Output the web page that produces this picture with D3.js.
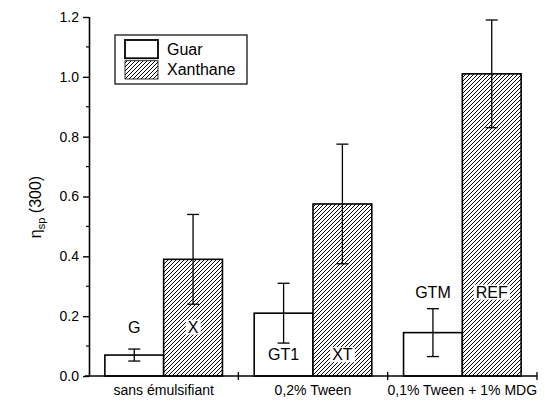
<!DOCTYPE html>
<html><head><meta charset="utf-8">
<script src="https://cdn.jsdelivr.net/npm/d3@7"></script>
<style>
body{margin:0;background:#fff;}
svg{font-family:"Liberation Sans",Arial,Helvetica,sans-serif;}
</style></head>
<body><svg id="c" width="545" height="401"></svg>
<script>
const groups = ["sans émulsifiant", "0,2% Tween", "0,1% Tween + 1% MDG"];
const series = ["Guar", "Xanthane"];
const guarValues = [0.07, 0.21, 0.145];
const guarErrors = [0.02, 0.10, 0.08];
const xanValues = [0.39, 0.575, 1.01];
const xanErrors = [0.15, 0.20, 0.18];
const guarLabels = ["G", "GT1", "GTM"];
const xanLabels = ["X", "XT", "REF"];
const yTicks = [0, 0.2, 0.4, 0.6, 0.8, 1.0, 1.2];

(function(){
const svg = d3.select("#c");
const defs = svg.append("defs");
const pat = defs.append("pattern").attr("id","hatch").attr("patternUnits","userSpaceOnUse")
  .attr("width",4).attr("height",4);
pat.append("rect").attr("width",4).attr("height",4).attr("fill","#fff");
pat.append("path").attr("d","M-1,1 l2,-2 M0,4 l4,-4 M3,5 l2,-2").attr("stroke","#000").attr("stroke-width",1.0);

const mLeft = 89, mRight = 537, mTop = 17, mBottom = 376;
const y = d3.scaleLinear().domain([0,1.2]).range([mBottom, mTop]);
const x0 = d3.scaleBand().domain(groups).range([mLeft, mRight]);
const x1 = d3.scaleBand().domain(series).range([0, x0.bandwidth()]).paddingOuter(0.27);

const data = [];
groups.forEach((g,i)=>{
  data.push({g, s:"Guar", v:guarValues[i], e:guarErrors[i], lab:guarLabels[i]});
  data.push({g, s:"Xanthane", v:xanValues[i], e:xanErrors[i], lab:xanLabels[i]});
});

// bars
svg.append("g").selectAll("rect").data(data).join("rect")
  .attr("x", d=>x0(d.g)+x1(d.s))
  .attr("y", d=>y(d.v))
  .attr("width", x1.bandwidth())
  .attr("height", d=>y(0)-y(d.v))
  .attr("fill", d=>d.s==="Guar" ? "#fff" : "url(#hatch)")
  .attr("stroke","#000").attr("stroke-width",1.6);

// error bars
const eb = svg.append("g").attr("stroke","#000").attr("stroke-width",1.3).attr("fill","none");
data.forEach(d=>{
  const cx = x0(d.g)+x1(d.s)+x1.bandwidth()/2;
  const y1 = y(d.v+d.e), y2 = y(d.v-d.e);
  eb.append("line").attr("x1",cx).attr("x2",cx).attr("y1",y1).attr("y2",y2);
  eb.append("line").attr("x1",cx-6).attr("x2",cx+6).attr("y1",y1).attr("y2",y1);
  eb.append("line").attr("x1",cx-6).attr("x2",cx+6).attr("y1",y2).attr("y2",y2);
});

// bar labels
const labPos = {"G":0.145,"X":0.145,"GT1":0.053,"XT":0.053,"GTM":0.262,"REF":0.262};
const lg = svg.append("g").attr("font-size",16).attr("text-anchor","middle");
data.forEach(d=>{
  const cx = x0(d.g)+x1(d.s)+x1.bandwidth()/2;
  const yy = y(labPos[d.lab]);
  const t = lg.append("text").attr("x",cx).attr("y",yy).text(d.lab);
  if (d.s==="Xanthane") {
    const bb = t.node().getBBox();
    lg.insert("rect","text").attr("x",bb.x-2).attr("y",bb.y+1).attr("width",bb.width+4).attr("height",bb.height-2).attr("fill","#fff");
  }
});

// y axis
const yAxis = svg.append("g").attr("transform",`translate(${mLeft},0)`)
  .call(d3.axisLeft(y).tickValues(yTicks).tickFormat(d3.format(".1f")).tickSize(6).tickPadding(4));
yAxis.select(".domain").attr("d",`M0.5,${mBottom}V${mTop}`).attr("stroke-width",1.6);
yAxis.selectAll(".tick line").attr("stroke-width",1.4);
yAxis.selectAll("text").attr("font-size",14).attr("font-family","Liberation Sans, Arial, sans-serif").attr("fill","#000");
const minor = d3.range(0.1,1.2,0.2);
svg.append("g").selectAll("line").data(minor).join("line")
  .attr("x1",mLeft-3).attr("x2",mLeft).attr("y1",d=>y(d)).attr("y2",d=>y(d))
  .attr("stroke","#000").attr("stroke-width",1.2);

// x axis
svg.append("line").attr("x1",mLeft-4).attr("x2",mRight).attr("y1",mBottom).attr("y2",mBottom)
  .attr("stroke","#000").attr("stroke-width",1.6);
const bounds = groups.slice(1).map(g=>x0(g)).concat([mRight]);
svg.append("g").selectAll("line").data(bounds).join("line")
  .attr("x1",d=>d).attr("x2",d=>d).attr("y1",mBottom-4).attr("y2",mBottom+4)
  .attr("stroke","#000").attr("stroke-width",1.3);
svg.append("g").attr("font-size",14).attr("text-anchor","middle")
  .selectAll("text").data(groups).join("text")
  .attr("x",d=>x0(d)+x0.bandwidth()/2).attr("y",mBottom+19).text(d=>d);

// y label
const yl = svg.append("text").attr("transform","translate(41,207) rotate(-90)")
  .attr("text-anchor","middle").attr("font-size",16);
yl.append("tspan").text("η");
yl.append("tspan").attr("font-size",11).attr("dy",4).text("sp");
yl.append("tspan").attr("dy",-4).text(" (300)");

// legend
const leg = svg.append("g");
leg.append("rect").attr("x",115).attr("y",35).attr("width",132).attr("height",49)
  .attr("fill","#fff").attr("stroke","#000").attr("stroke-width",1.2);
const ly = d3.scaleBand().domain(series).range([40,79]).paddingInner(0.12);
series.forEach(s=>{
  leg.append("rect").attr("x",125).attr("y",ly(s)).attr("width",33).attr("height",ly.bandwidth())
    .attr("fill", s==="Guar"?"#fff":"url(#hatch)").attr("stroke","#000").attr("stroke-width", s==="Guar"?1.8:0.8);
  leg.append("text").attr("x",167).attr("y",ly(s)+ly.bandwidth()/2+5.5).attr("font-size",16).text(s);
});
})();
</script></body></html>
